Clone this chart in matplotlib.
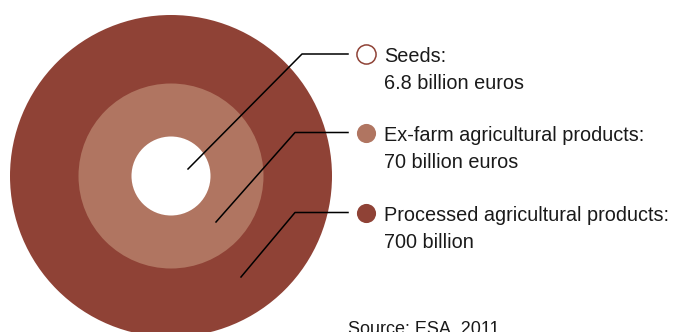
import matplotlib
matplotlib.use('Agg')
import matplotlib.pyplot as plt
from matplotlib.patches import Circle

# data
names = ['Seeds:', 'Ex-farm agricultural products:', 'Processed agricultural products:']
values = ['6.8 billion euros', '70 billion euros', '700 billion']
colors = ['#ffffff', '#b07561', '#8f4236']
edge_color = '#8f4236'
source = 'Source: ESA, 2011'

# layout (pixels)
cx, cy = 171, 176
radii = [39.5, 92.5, 161]
line_starts = [(188, 169), (216, 222), (241, 277)]
elbow_x = [302, 295, 295]
row_y = [54, 132.5, 212.5]

fig = plt.figure(figsize=(6.73, 3.32), dpi=100)
ax = fig.add_axes([0, 0, 1, 1])
ax.set_xlim(0, 673)
ax.set_ylim(332, 0)
ax.set_aspect('equal')
ax.axis('off')

# rings, biggest first
for r, c in zip(radii[::-1], colors[::-1]):
    ax.add_patch(Circle((cx, cy), r, facecolor=c, edgecolor='none'))

font = ['Liberation Sans', 'DejaVu Sans']
for i in range(3):
    x0, y0 = line_starts[i]
    ax.plot([x0, elbow_x[i], 348], [y0, row_y[i], row_y[i]], color='black', lw=1.1)
    ax.scatter([366], [row_y[i]], s=190, facecolor=colors[i], edgecolor=edge_color,
               linewidths=1.1 if i == 0 else 0, zorder=3)
    ax.text(384, row_y[i] + 8.5, names[i], fontsize=14.3, family=font, va='baseline', color='#1a1a1a')
    ax.text(384, row_y[i] + 35, values[i], fontsize=14.3, family=font, va='baseline', color='#1a1a1a')

# the source line sits at the bottom edge and is clipped, as in the original
ax.text(348, 321, source, fontsize=13, family=font, va='top', color='#1a1a1a')

fig.savefig('out.png', dpi=100)
